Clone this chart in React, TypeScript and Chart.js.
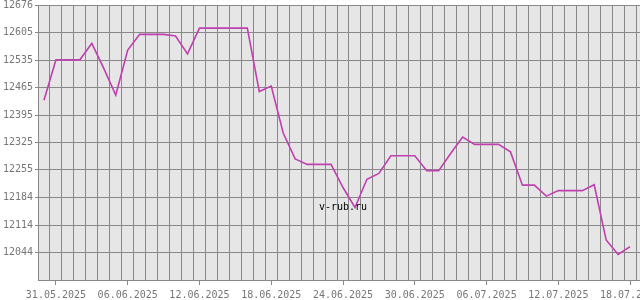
import React, { useEffect, useRef } from "react";
import { Chart, registerables } from "chart.js";

Chart.register(...registerables);

const dates: string[] = [
  "30.05.2025", "31.05.2025", "01.06.2025", "02.06.2025", "03.06.2025", "04.06.2025", "05.06.2025",
  "06.06.2025", "07.06.2025", "08.06.2025", "09.06.2025", "10.06.2025", "11.06.2025", "12.06.2025",
  "13.06.2025", "14.06.2025", "15.06.2025", "16.06.2025", "17.06.2025", "18.06.2025", "19.06.2025",
  "20.06.2025", "21.06.2025", "22.06.2025", "23.06.2025", "24.06.2025", "25.06.2025", "26.06.2025",
  "27.06.2025", "28.06.2025", "29.06.2025", "30.06.2025", "01.07.2025", "02.07.2025", "03.07.2025",
  "04.07.2025", "05.07.2025", "06.07.2025", "07.07.2025", "08.07.2025", "09.07.2025", "10.07.2025",
  "11.07.2025", "12.07.2025", "13.07.2025", "14.07.2025", "15.07.2025", "16.07.2025", "17.07.2025",
  "18.07.2025",
];

const rates: number[] = [
  12433, 12536, 12536, 12536, 12578, 12514, 12446,
  12561, 12601, 12601, 12601, 12597, 12551, 12617,
  12617, 12617, 12617, 12617, 12455, 12469, 12349,
  12283, 12269, 12269, 12269, 12210, 12159, 12231,
  12246, 12291, 12291, 12291, 12253, 12253, 12297,
  12339, 12320, 12320, 12320, 12301, 12216, 12216,
  12188, 12202, 12202, 12202, 12217, 12076, 12039,
  12059,
];

const xTickLabels: string[] = [
  "31.05.2025", "06.06.2025", "12.06.2025", "18.06.2025", "24.06.2025",
  "30.06.2025", "06.07.2025", "12.07.2025", "18.07.2025",
];

const yTickLabels: number[] = [12044, 12114, 12184, 12255, 12325, 12395, 12465, 12535, 12605, 12676];

const Y_MIN = 11973.8;
const Y_MAX = 12676;
const X_MIN = -0.5;
const X_MAX = 51;

const GRID = "#888888";
const FONT = { family: "'DejaVu Sans Mono', monospace", size: 10 };

export default function App() {
  const ref = useRef<HTMLCanvasElement | null>(null);

  useEffect(() => {
    if (!ref.current) return;
    const labelIdx = xTickLabels.map((l) => dates.indexOf(l));
    const halfTicks: number[] = [];
    for (let i = 0; i <= dates.length + 1; i++) halfTicks.push(i - 0.5);
    const allX = Array.from(new Set([...halfTicks, ...labelIdx])).sort((a, b) => a - b);

    const bgPlugin = {
      id: "bg",
      beforeDraw(chart: any) {
        const { ctx, chartArea } = chart;
        ctx.save();
        ctx.fillStyle = "#e6e6e6";
        ctx.fillRect(chartArea.left, chartArea.top, chartArea.right - chartArea.left, chartArea.bottom - chartArea.top);
        ctx.restore();
      },
      afterDatasetsDraw(chart: any) {
        const { ctx } = chart;
        ctx.save();
        ctx.fillStyle = "#000000";
        ctx.font = "10px 'DejaVu Sans Mono', monospace";
        ctx.textAlign = "center";
        ctx.textBaseline = "middle";
        ctx.fillText("v-rub.ru", 343, 207.5);
        ctx.restore();
      },
    };

    const chart = new Chart(ref.current, {
      type: "line",
      data: {
        datasets: [
          {
            data: rates.map((v, i) => ({ x: i, y: v })),
            borderColor: "#c040b0",
            borderWidth: 1.6,
            pointRadius: 0,
            tension: 0,
            fill: false,
          },
        ],
      },
      options: {
        animation: false,
        responsive: false,
        devicePixelRatio: 1,
        parsing: false as any,
        layout: { padding: { top: 5, right: 46, left: 0, bottom: 0 } },
        plugins: { legend: { display: false }, tooltip: { enabled: false } },
        scales: {
          x: {
            type: "linear",
            min: X_MIN,
            max: X_MAX,
            afterBuildTicks: (scale: any) => {
              scale.ticks = allX.map((v) => ({ value: v }));
            },
            afterFit: (scale: any) => {
              scale.height = 20;
              scale.paddingLeft = 0;
              scale.paddingRight = 0;
            },
            grid: {
              color: (c: any) => (labelIdx.includes(c.tick?.value) ? "rgba(0,0,0,0)" : GRID),
              tickColor: (c: any) => (labelIdx.includes(c.tick?.value) ? GRID : "rgba(0,0,0,0)"),
              tickLength: 5,
              lineWidth: 1,
            },
            border: { color: GRID, width: 1 },
            ticks: {
              autoSkip: false,
              maxRotation: 0,
              minRotation: 0,
              padding: 4,
              color: "#777777",
              font: FONT,
              callback: (v: any) => {
                const i = labelIdx.indexOf(Number(v));
                return i >= 0 ? xTickLabels[i] : "";
              },
            },
          },
          y: {
            type: "linear",
            min: Y_MIN,
            max: Y_MAX,
            afterBuildTicks: (scale: any) => {
              scale.ticks = yTickLabels.map((v) => ({ value: v }));
            },
            afterFit: (scale: any) => {
              scale.width = 38;
              scale.paddingTop = 0;
              scale.paddingBottom = 0;
            },
            grid: { color: GRID, tickLength: 3, lineWidth: 1 },
            border: { color: GRID, width: 1 },
            ticks: {
              padding: 2,
              color: "#777777",
              font: FONT,
              callback: (v: any) => String(v),
            },
          },
        },
      },
      plugins: [bgPlugin],
    });
    return () => chart.destroy();
  }, []);

  return (
    <div style={{ position: "fixed", left: 0, top: 0, width: 700, height: 300, overflow: "hidden" }}>
      <canvas ref={ref} width={700} height={300} style={{ display: "block", width: 700, height: 300 }} />
    </div>
  );
}
